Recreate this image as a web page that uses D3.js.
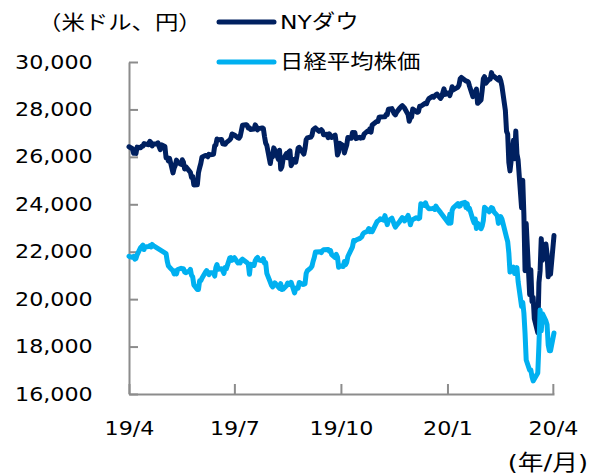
<!DOCTYPE html>
<html>
<head>
<meta charset="utf-8">
<script src="https://d3js.org/d3.v7.min.js"></script>
<style>
    body { margin: 0; background: #fff; }
    text { font-family: "DejaVu Sans", "Noto Sans CJK JP", sans-serif; fill: #000; }
</style>
</head>
<body>
<div id="index-chart"></div>
<script>
// NY Dow closing prices (USD)
var dowData = [
    ["2019-04-05", 26425], ["2019-04-08", 26341], ["2019-04-09", 26150], ["2019-04-10", 26157], ["2019-04-11", 26143],
    ["2019-04-12", 26412], ["2019-04-15", 26384], ["2019-04-16", 26452], ["2019-04-17", 26449], ["2019-04-18", 26559],
    ["2019-04-22", 26511], ["2019-04-23", 26656], ["2019-04-24", 26597], ["2019-04-25", 26462], ["2019-04-26", 26543],
    ["2019-04-29", 26554], ["2019-04-30", 26592], ["2019-05-01", 26430], ["2019-05-02", 26307], ["2019-05-03", 26505],
    ["2019-05-06", 26438], ["2019-05-07", 25965], ["2019-05-08", 25968], ["2019-05-09", 25828], ["2019-05-10", 25942],
    ["2019-05-13", 25324], ["2019-05-14", 25532], ["2019-05-15", 25648], ["2019-05-16", 25863], ["2019-05-17", 25764],
    ["2019-05-20", 25680], ["2019-05-21", 25877], ["2019-05-22", 25776], ["2019-05-23", 25490], ["2019-05-24", 25586],
    ["2019-05-28", 25348], ["2019-05-29", 25126], ["2019-05-30", 25170], ["2019-05-31", 24815], ["2019-06-03", 24820],
    ["2019-06-04", 25332], ["2019-06-05", 25540], ["2019-06-06", 25720], ["2019-06-07", 25984], ["2019-06-10", 26062],
    ["2019-06-11", 26049], ["2019-06-12", 26005], ["2019-06-13", 26107], ["2019-06-14", 26090], ["2019-06-17", 26112],
    ["2019-06-18", 26466], ["2019-06-19", 26504], ["2019-06-20", 26753], ["2019-06-21", 26720], ["2019-06-24", 26728],
    ["2019-06-25", 26549], ["2019-06-26", 26537], ["2019-06-27", 26527], ["2019-06-28", 26600], ["2019-07-01", 26718],
    ["2019-07-02", 26787], ["2019-07-03", 26966], ["2019-07-05", 26922], ["2019-07-08", 26806], ["2019-07-09", 26784],
    ["2019-07-10", 26860], ["2019-07-11", 27089], ["2019-07-12", 27332], ["2019-07-15", 27359], ["2019-07-16", 27336],
    ["2019-07-17", 27220], ["2019-07-18", 27223], ["2019-07-19", 27154], ["2019-07-22", 27172], ["2019-07-23", 27350],
    ["2019-07-24", 27270], ["2019-07-25", 27141], ["2019-07-26", 27192], ["2019-07-29", 27222], ["2019-07-30", 27199],
    ["2019-07-31", 26864], ["2019-08-01", 26583], ["2019-08-02", 26485], ["2019-08-05", 25718], ["2019-08-06", 26030],
    ["2019-08-07", 26008], ["2019-08-08", 26379], ["2019-08-09", 26287], ["2019-08-12", 25897], ["2019-08-13", 26280],
    ["2019-08-14", 25479], ["2019-08-15", 25579], ["2019-08-16", 25886], ["2019-08-19", 26136], ["2019-08-20", 25962],
    ["2019-08-21", 26202], ["2019-08-22", 26253], ["2019-08-23", 25629], ["2019-08-26", 25899], ["2019-08-27", 25778],
    ["2019-08-28", 26037], ["2019-08-29", 26363], ["2019-08-30", 26403], ["2019-09-03", 26118], ["2019-09-04", 26355],
    ["2019-09-05", 26728], ["2019-09-06", 26797], ["2019-09-09", 26836], ["2019-09-10", 26910], ["2019-09-11", 27137],
    ["2019-09-12", 27182], ["2019-09-13", 27220], ["2019-09-16", 27076], ["2019-09-17", 27111], ["2019-09-18", 27147],
    ["2019-09-19", 27095], ["2019-09-20", 26935], ["2019-09-23", 26950], ["2019-09-24", 26808], ["2019-09-25", 26971],
    ["2019-09-26", 26891], ["2019-09-27", 26820], ["2019-09-30", 26917], ["2019-10-01", 26573], ["2019-10-02", 26079],
    ["2019-10-03", 26201], ["2019-10-04", 26574], ["2019-10-07", 26478], ["2019-10-08", 26164], ["2019-10-09", 26347],
    ["2019-10-10", 26497], ["2019-10-11", 26817], ["2019-10-14", 26787], ["2019-10-15", 27025], ["2019-10-16", 27002],
    ["2019-10-17", 27026], ["2019-10-18", 26770], ["2019-10-21", 26828], ["2019-10-22", 26789], ["2019-10-23", 26834],
    ["2019-10-24", 26806], ["2019-10-25", 26959], ["2019-10-28", 27091], ["2019-10-29", 27071], ["2019-10-30", 27186],
    ["2019-10-31", 27046], ["2019-11-01", 27347], ["2019-11-04", 27462], ["2019-11-05", 27493], ["2019-11-06", 27492],
    ["2019-11-07", 27675], ["2019-11-08", 27681], ["2019-11-11", 27691], ["2019-11-12", 27691], ["2019-11-13", 27784],
    ["2019-11-14", 27782], ["2019-11-15", 28005], ["2019-11-18", 28036], ["2019-11-19", 27934], ["2019-11-20", 27822],
    ["2019-11-21", 27767], ["2019-11-22", 27876], ["2019-11-25", 28066], ["2019-11-26", 28122], ["2019-11-27", 28164],
    ["2019-11-29", 28051], ["2019-12-02", 27783], ["2019-12-03", 27503], ["2019-12-04", 27650], ["2019-12-05", 27678],
    ["2019-12-06", 28015], ["2019-12-09", 27910], ["2019-12-10", 27881], ["2019-12-11", 27911], ["2019-12-12", 28132],
    ["2019-12-13", 28135], ["2019-12-16", 28236], ["2019-12-17", 28268], ["2019-12-18", 28240], ["2019-12-19", 28377],
    ["2019-12-20", 28455], ["2019-12-23", 28551], ["2019-12-24", 28516], ["2019-12-26", 28622], ["2019-12-27", 28645],
    ["2019-12-30", 28463], ["2019-12-31", 28538], ["2020-01-02", 28869], ["2020-01-03", 28635], ["2020-01-06", 28704],
    ["2020-01-07", 28584], ["2020-01-08", 28745], ["2020-01-09", 28957], ["2020-01-10", 28824], ["2020-01-13", 28908],
    ["2020-01-14", 28940], ["2020-01-15", 29030], ["2020-01-16", 29298], ["2020-01-17", 29348], ["2020-01-21", 29196],
    ["2020-01-22", 29186], ["2020-01-23", 29160], ["2020-01-24", 28990], ["2020-01-27", 28536], ["2020-01-28", 28723],
    ["2020-01-29", 28734], ["2020-01-30", 28860], ["2020-01-31", 28256], ["2020-02-03", 28400], ["2020-02-04", 28808],
    ["2020-02-05", 29291], ["2020-02-06", 29380], ["2020-02-07", 29103], ["2020-02-10", 29276], ["2020-02-11", 29277],
    ["2020-02-12", 29551], ["2020-02-13", 29424], ["2020-02-14", 29398], ["2020-02-18", 29232], ["2020-02-19", 29348],
    ["2020-02-20", 29219], ["2020-02-21", 28992], ["2020-02-24", 27961], ["2020-02-25", 27081], ["2020-02-26", 26957],
    ["2020-02-27", 25766], ["2020-02-28", 25409], ["2020-03-02", 26703], ["2020-03-03", 25917], ["2020-03-04", 27091],
    ["2020-03-05", 26121], ["2020-03-06", 25865], ["2020-03-09", 23851], ["2020-03-10", 25018], ["2020-03-11", 23553],
    ["2020-03-12", 21200], ["2020-03-13", 23186], ["2020-03-16", 20189], ["2020-03-17", 21237], ["2020-03-18", 19899],
    ["2020-03-19", 20087], ["2020-03-20", 19174], ["2020-03-23", 18592], ["2020-03-24", 20705], ["2020-03-25", 21201],
    ["2020-03-26", 22552], ["2020-03-27", 21637], ["2020-03-30", 22327], ["2020-03-31", 21917], ["2020-04-01", 20943],
    ["2020-04-02", 21413], ["2020-04-03", 21053], ["2020-04-06", 22680]
];

// Nikkei 225 closing prices (JPY)
var nikkeiData = [
    ["2019-04-05", 21808], ["2019-04-08", 21762], ["2019-04-09", 21803], ["2019-04-10", 21688], ["2019-04-11", 21711],
    ["2019-04-12", 21871], ["2019-04-15", 22169], ["2019-04-16", 22221], ["2019-04-17", 22278], ["2019-04-18", 22091],
    ["2019-04-19", 22200], ["2019-04-22", 22218], ["2019-04-23", 22260], ["2019-04-24", 22200], ["2019-04-25", 22307],
    ["2019-04-26", 22259], ["2019-05-07", 21924], ["2019-05-08", 21602], ["2019-05-09", 21402], ["2019-05-10", 21345],
    ["2019-05-13", 21191], ["2019-05-14", 21067], ["2019-05-15", 21189], ["2019-05-16", 21062], ["2019-05-17", 21250],
    ["2019-05-20", 21302], ["2019-05-21", 21272], ["2019-05-22", 21283], ["2019-05-23", 21151], ["2019-05-24", 21117],
    ["2019-05-27", 21183], ["2019-05-28", 21260], ["2019-05-29", 21003], ["2019-05-30", 20943], ["2019-05-31", 20601],
    ["2019-06-03", 20410], ["2019-06-04", 20409], ["2019-06-05", 20776], ["2019-06-06", 20774], ["2019-06-07", 20885],
    ["2019-06-10", 21134], ["2019-06-11", 21205], ["2019-06-12", 21129], ["2019-06-13", 21032], ["2019-06-14", 21117],
    ["2019-06-17", 21124], ["2019-06-18", 20972], ["2019-06-19", 21333], ["2019-06-20", 21462], ["2019-06-21", 21259],
    ["2019-06-24", 21286], ["2019-06-25", 21193], ["2019-06-26", 21087], ["2019-06-27", 21338], ["2019-06-28", 21276],
    ["2019-07-01", 21730], ["2019-07-02", 21754], ["2019-07-03", 21638], ["2019-07-04", 21702], ["2019-07-05", 21746],
    ["2019-07-08", 21534], ["2019-07-09", 21565], ["2019-07-10", 21533], ["2019-07-11", 21643], ["2019-07-12", 21686],
    ["2019-07-16", 21535], ["2019-07-17", 21469], ["2019-07-18", 21046], ["2019-07-19", 21467], ["2019-07-22", 21417],
    ["2019-07-23", 21621], ["2019-07-24", 21710], ["2019-07-25", 21757], ["2019-07-26", 21658], ["2019-07-29", 21617],
    ["2019-07-30", 21709], ["2019-07-31", 21522], ["2019-08-01", 21541], ["2019-08-02", 21088], ["2019-08-05", 20720],
    ["2019-08-06", 20586], ["2019-08-07", 20517], ["2019-08-08", 20593], ["2019-08-09", 20685], ["2019-08-13", 20455],
    ["2019-08-14", 20655], ["2019-08-15", 20406], ["2019-08-16", 20419], ["2019-08-19", 20563], ["2019-08-20", 20678],
    ["2019-08-21", 20619], ["2019-08-22", 20629], ["2019-08-23", 20711], ["2019-08-26", 20261], ["2019-08-27", 20456],
    ["2019-08-28", 20480], ["2019-08-29", 20461], ["2019-08-30", 20704], ["2019-09-02", 20620], ["2019-09-03", 20626],
    ["2019-09-04", 20649], ["2019-09-05", 21086], ["2019-09-06", 21200], ["2019-09-09", 21318], ["2019-09-10", 21392],
    ["2019-09-11", 21598], ["2019-09-12", 21760], ["2019-09-13", 21988], ["2019-09-17", 22001], ["2019-09-18", 21961],
    ["2019-09-19", 22044], ["2019-09-20", 22079], ["2019-09-24", 22098], ["2019-09-25", 22020], ["2019-09-26", 22049],
    ["2019-09-27", 21879], ["2019-09-30", 21756], ["2019-10-01", 21885], ["2019-10-02", 21778], ["2019-10-03", 21341],
    ["2019-10-04", 21410], ["2019-10-07", 21375], ["2019-10-08", 21588], ["2019-10-09", 21456], ["2019-10-10", 21552],
    ["2019-10-11", 21799], ["2019-10-15", 22207], ["2019-10-16", 22473], ["2019-10-17", 22452], ["2019-10-18", 22493],
    ["2019-10-21", 22549], ["2019-10-23", 22625], ["2019-10-24", 22751], ["2019-10-25", 22800], ["2019-10-28", 22867],
    ["2019-10-29", 22974], ["2019-10-30", 22844], ["2019-10-31", 22927], ["2019-11-01", 22851], ["2019-11-05", 23251],
    ["2019-11-06", 23303], ["2019-11-07", 23330], ["2019-11-08", 23392], ["2019-11-11", 23332], ["2019-11-12", 23520],
    ["2019-11-13", 23320], ["2019-11-14", 23141], ["2019-11-15", 23303], ["2019-11-18", 23417], ["2019-11-19", 23293],
    ["2019-11-20", 23149], ["2019-11-21", 23038], ["2019-11-22", 23113], ["2019-11-25", 23293], ["2019-11-26", 23373],
    ["2019-11-27", 23438], ["2019-11-28", 23409], ["2019-11-29", 23294], ["2019-12-02", 23529], ["2019-12-03", 23380],
    ["2019-12-04", 23135], ["2019-12-05", 23300], ["2019-12-06", 23354], ["2019-12-09", 23430], ["2019-12-10", 23410],
    ["2019-12-11", 23391], ["2019-12-12", 23424], ["2019-12-13", 24023], ["2019-12-16", 23952], ["2019-12-17", 24066],
    ["2019-12-18", 23934], ["2019-12-19", 23865], ["2019-12-20", 23816], ["2019-12-23", 23821], ["2019-12-24", 23830],
    ["2019-12-25", 23782], ["2019-12-26", 23925], ["2019-12-27", 23838], ["2019-12-30", 23657], ["2020-01-06", 23204],
    ["2020-01-07", 23575], ["2020-01-08", 23205], ["2020-01-09", 23740], ["2020-01-10", 23851], ["2020-01-14", 24025],
    ["2020-01-15", 23917], ["2020-01-16", 23933], ["2020-01-17", 24041], ["2020-01-20", 24083], ["2020-01-21", 23865],
    ["2020-01-22", 24031], ["2020-01-23", 23795], ["2020-01-24", 23827], ["2020-01-27", 23344], ["2020-01-28", 23216],
    ["2020-01-29", 23380], ["2020-01-30", 22977], ["2020-01-31", 23205], ["2020-02-03", 22972], ["2020-02-04", 23085],
    ["2020-02-05", 23320], ["2020-02-06", 23874], ["2020-02-07", 23828], ["2020-02-10", 23686], ["2020-02-12", 23861],
    ["2020-02-13", 23828], ["2020-02-14", 23688], ["2020-02-17", 23523], ["2020-02-18", 23194], ["2020-02-19", 23400],
    ["2020-02-20", 23479], ["2020-02-21", 23387], ["2020-02-25", 22606], ["2020-02-26", 22426], ["2020-02-27", 21948],
    ["2020-02-28", 21143], ["2020-03-02", 21345], ["2020-03-03", 21083], ["2020-03-04", 21100], ["2020-03-05", 21330],
    ["2020-03-06", 20750], ["2020-03-09", 19699], ["2020-03-10", 19867], ["2020-03-11", 19416], ["2020-03-12", 18560],
    ["2020-03-13", 17431], ["2020-03-16", 17002], ["2020-03-17", 17012], ["2020-03-18", 16726], ["2020-03-19", 16553],
    ["2020-03-23", 16888], ["2020-03-24", 18092], ["2020-03-25", 19547], ["2020-03-26", 18665], ["2020-03-27", 19389],
    ["2020-03-30", 19084], ["2020-03-31", 18917], ["2020-04-01", 18066], ["2020-04-02", 17819], ["2020-04-03", 17820],
    ["2020-04-06", 18576]
];

var seriesNames = ["NYダウ", "日経平均株価"];
var seriesColors = ["#002060", "#00b0f0"];

var yTicks = [16000, 18000, 20000, 22000, 24000, 26000, 28000, 30000];
var xTickDates = ["2019-04-05", "2019-07-05", "2019-10-05", "2020-01-05", "2020-04-05"];
var xTickLabels = ["19/4", "19/7", "19/10", "20/1", "20/4"];

var unitLabel = "（米ドル、円）";
var periodLabel = "(年/月)";

// the source text is drawn a bit wider than the font's natural width
var TEXT_STRETCH = 1.17;

/**
 * Constructor for the index chart
 */
function IndexChart(series)
{
    var self = this;
    self.series = series;
    self.init();
}

/**
 * Sets up the svg element
 */
IndexChart.prototype.init = function()
{
    var self = this;
    self.width = 595;
    self.height = 475;
    self.plot = {left: 129, right: 554, top: 62, bottom: 394};

    self.svg = d3.select("#index-chart").append("svg")
        .attr("width", self.width)
        .attr("height", self.height);
};

/**
 * Adds a horizontally stretched text label anchored at (x, y)
 */
IndexChart.prototype.label = function(x, y, str, size, anchor)
{
    var self = this;
    return self.svg.append("text")
        .attr("transform", "translate(" + x + "," + y + ") scale(" + TEXT_STRETCH + ",1)")
        .attr("text-anchor", anchor || "start")
        .style("font-size", size + "px")
        .text(str);
};

/**
 * Draws axes, lines and legend
 */
IndexChart.prototype.update = function()
{
    var self = this;
    var parseDate = d3.timeParse("%Y-%m-%d");

    var x = d3.scaleTime()
        .domain([parseDate("2019-04-05"), parseDate("2020-04-06")])
        .range([self.plot.left, self.plot.right]);

    var y = d3.scaleLinear()
        .domain([16000, 30000])
        .range([self.plot.bottom, self.plot.top]);

    // ticks point into the plot
    var yAxis = d3.axisLeft(y)
        .tickValues(yTicks)
        .tickSizeInner(-9)
        .tickSizeOuter(0)
        .tickPadding(31)
        .tickFormat(d3.format(","));

    var xAxis = d3.axisBottom(x)
        .tickValues(xTickDates.map(parseDate))
        .tickSizeInner(-10)
        .tickSizeOuter(0)
        .tickPadding(28)
        .tickFormat(function(d, i) { return xTickLabels[i]; });

    var gy = self.svg.append("g")
        .attr("transform", "translate(" + self.plot.left + ",0)")
        .call(yAxis);

    var gx = self.svg.append("g")
        .attr("transform", "translate(0," + self.plot.bottom + ")")
        .call(xAxis);

    [gx, gy].forEach(function(g) {
        g.selectAll("path, line").attr("stroke", "#8c8c8c").attr("stroke-width", 2);
        g.selectAll("text")
            .style("font-family", "'DejaVu Sans', 'Noto Sans CJK JP', sans-serif")
            .style("font-size", "19px")
            .attr("fill", "#000")
            .attr("transform", "scale(" + TEXT_STRETCH + ",1)");
    });

    var valueLine = d3.line()
        .x(function(d) { return x(parseDate(d[0])); })
        .y(function(d) { return y(d[1]); });

    self.series.forEach(function(s, i) {
        self.svg.append("path")
            .attr("d", valueLine(s))
            .attr("fill", "none")
            .attr("stroke", seriesColors[i])
            .attr("stroke-width", 5)
            .attr("stroke-linejoin", "round")
            .attr("stroke-linecap", "round");
    });

    // legend
    seriesNames.forEach(function(name, i) {
        var ly = 22 + i * 40;
        self.svg.append("line")
            .attr("x1", 219).attr("x2", 274)
            .attr("y1", ly).attr("y2", ly)
            .attr("stroke", seriesColors[i])
            .attr("stroke-width", 5)
            .attr("stroke-linecap", "round");
        self.label(280, ly + 7, name, 20);
    });

    self.label(38, 30, unitLabel, 20);
    self.label(588, 470, periodLabel, 22, "end");
};

var chart = new IndexChart([dowData, nikkeiData]);
chart.update();
</script>
</body>
</html>
